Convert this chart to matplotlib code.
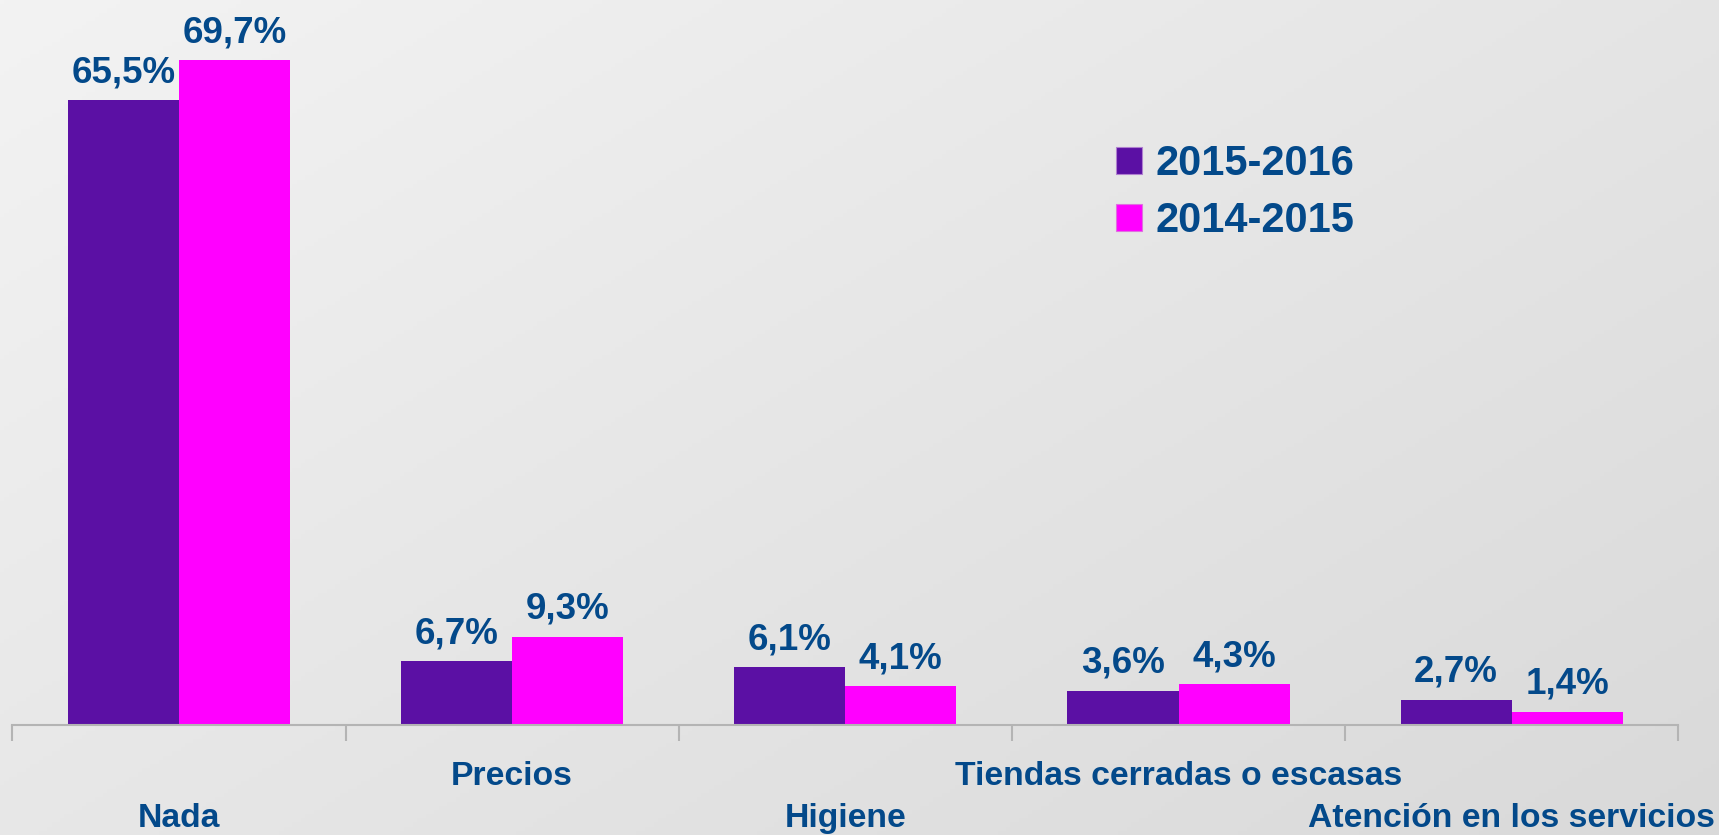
import numpy as np
import matplotlib
matplotlib.use("Agg")
import matplotlib.pyplot as plt
from matplotlib.patches import Patch
from matplotlib.transforms import blended_transform_factory

categories = ["Nada", "Precios", "Higiene", "Tiendas cerradas o escasas", "Atención en los servicios"]
series_names = ["2015-2016", "2014-2015"]
values_2015_2016 = [65.5, 6.7, 6.1, 3.6, 2.7]
values_2014_2015 = [69.7, 9.3, 4.1, 4.3, 1.4]
label_row = [1, 0, 1, 0, 1]  # 0 = upper row, 1 = lower row

purple = "#5B10A4"
pink = "#FF00FF"
text_blue = "#03498A"
axis_gray = "#B4B4B4"
font = "Liberation Sans"

W, H = 1719, 835
fig = plt.figure(figsize=(W / 100, H / 100), dpi=100)

# gradient background
bg = fig.add_axes([0, 0, 1, 1], zorder=-10)
yy, xx = np.mgrid[0:1:200j, 0:1:400j]
g = 243 - 26 * (0.55 * xx + 0.45 * yy)
img = np.dstack([g, g, g]) / 255.0
bg.imshow(img, aspect="auto", extent=[0, 1, 0, 1], origin="upper")
bg.axis("off")

axis_y = 725.3
left_px, right_px = 12.3, 1678.3
ax = fig.add_axes([left_px / W, 1 - axis_y / H, (right_px - left_px) / W, axis_y / H])
ax.patch.set_alpha(0)

x = np.arange(len(categories))
bw = 1 / 3
px_per_unit = 9.54
ax.set_ylim(0, axis_y / px_per_unit)
ax.set_xlim(-0.5, len(categories) - 0.5)

b1 = ax.bar(x - bw / 2, values_2015_2016, bw, color=purple, label=series_names[0])
b2 = ax.bar(x + bw / 2, values_2014_2015, bw, color=pink, label=series_names[1])

for bars, vals in ((b1, values_2015_2016), (b2, values_2014_2015)):
    for rect, v in zip(bars, vals):
        ax.annotate(f"{v:.1f}%".replace(".", ","),
                    (rect.get_x() + rect.get_width() / 2, rect.get_height()),
                    xytext=(0, 13), textcoords="offset points",
                    ha="center", va="baseline", fontsize=26.5, fontweight="bold",
                    color=text_blue, family=font)

for s in ["top", "right", "left"]:
    ax.spines[s].set_visible(False)
ax.spines["bottom"].set_color(axis_gray)
ax.spines["bottom"].set_linewidth(1.5)
ax.set_yticks([])
ax.set_xticks(np.arange(-0.5, len(categories), 1.0))
ax.set_xticklabels([])
ax.tick_params(axis="x", length=11.5, width=1.5, color=axis_gray, direction="out")

trans = blended_transform_factory(ax.transData, fig.transFigure)
row_base = [1 - 785 / H, 1 - 827 / H]
for xi, cat, r in zip(x, categories, label_row):
    ax.text(xi, row_base[r], cat, transform=trans, ha="center", va="baseline",
            fontsize=24.3, fontweight="bold", color=text_blue, family=font)

handles = [Patch(facecolor=purple, edgecolor="#B07FD0", linewidth=0.8),
           Patch(facecolor=pink, edgecolor="#E070E0", linewidth=0.8)]
leg = fig.legend(handles, series_names, loc="upper left",
                 bbox_to_anchor=(1116 / W, 1 - 144 / H),
                 frameon=False, handlelength=0.62, handleheight=0.62,
                 handletextpad=0.33, labelspacing=0.4, borderpad=0, borderaxespad=0,
                 prop={"family": font, "weight": "bold", "size": 30})
for t in leg.get_texts():
    t.set_color(text_blue)

fig.savefig("out.png", dpi=100)
